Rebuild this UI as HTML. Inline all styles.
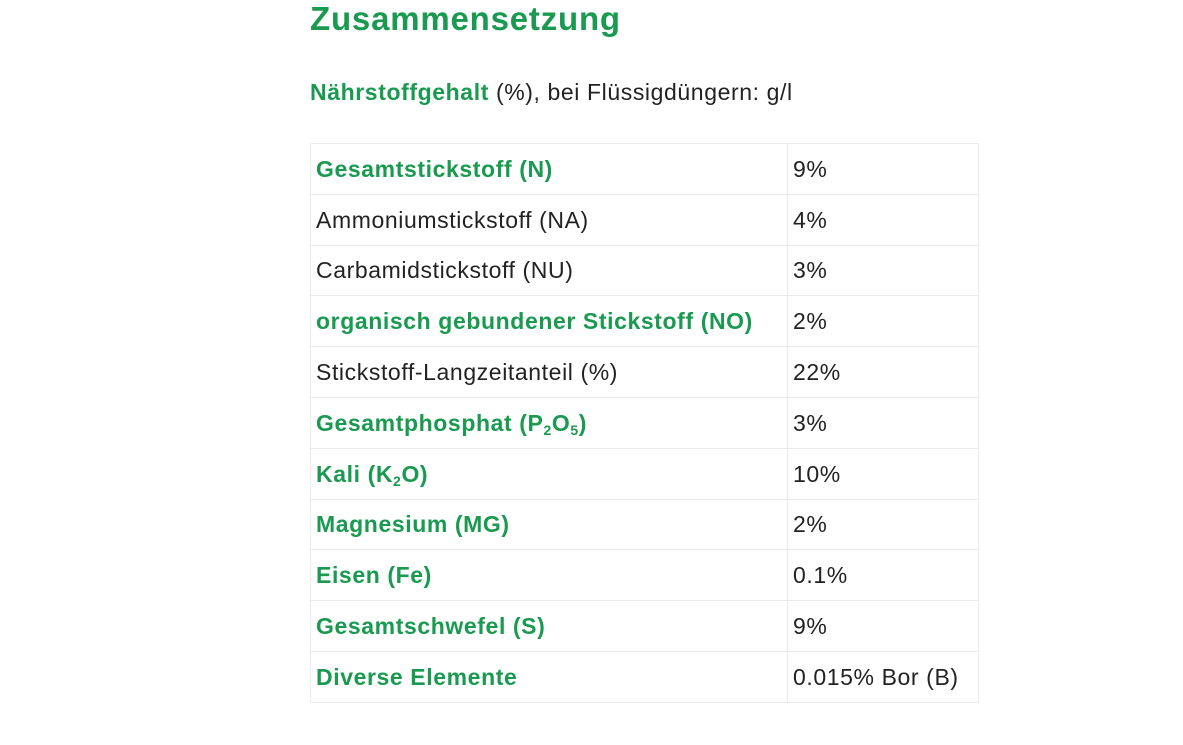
<!DOCTYPE html>
<html><head><meta charset="utf-8"><style>
html,body{margin:0;padding:0;background:#fff;width:1183px;height:745px;overflow:hidden}
body{font-family:"Liberation Sans",sans-serif;color:#222;position:relative}
.g{color:#1a9a50;font-weight:bold}
h1{position:absolute;left:310px;top:0px;margin:0;font-size:33px;letter-spacing:0.8px;color:#1a9a50;font-weight:bold}
.sub{position:absolute;left:310px;top:79px;font-size:23px;letter-spacing:0.6px;white-space:nowrap}
table{position:absolute;left:310px;top:143px;border-collapse:collapse;width:669px}
td{border:1px solid #eaeaea;height:50.8px;padding:1px 0 0 5px;box-sizing:border-box;font-size:23px;letter-spacing:0.6px;white-space:nowrap;vertical-align:middle}
td:first-child{width:477px}
sub{font-size:14px;vertical-align:-4px;line-height:0}
</style></head><body>
<h1>Zusammensetzung</h1>
<div class="sub"><span class="g">Nährstoffgehalt</span> (%), bei Flüssigdüngern: g/l</div>
<table>
<tr><td class="g">Gesamtstickstoff (N)</td><td>9%</td></tr>
<tr><td>Ammoniumstickstoff (NA)</td><td>4%</td></tr>
<tr><td>Carbamidstickstoff (NU)</td><td>3%</td></tr>
<tr><td class="g">organisch gebundener Stickstoff (NO)</td><td>2%</td></tr>
<tr><td>Stickstoff-Langzeitanteil (%)</td><td>22%</td></tr>
<tr><td class="g">Gesamtphosphat (P<sub>2</sub>O<sub>5</sub>)</td><td>3%</td></tr>
<tr><td class="g">Kali (K<sub>2</sub>O)</td><td>10%</td></tr>
<tr><td class="g">Magnesium (MG)</td><td>2%</td></tr>
<tr><td class="g">Eisen (Fe)</td><td>0.1%</td></tr>
<tr><td class="g">Gesamtschwefel (S)</td><td>9%</td></tr>
<tr><td class="g">Diverse Elemente</td><td>0.015% Bor (B)</td></tr>
</table>
</body></html>
